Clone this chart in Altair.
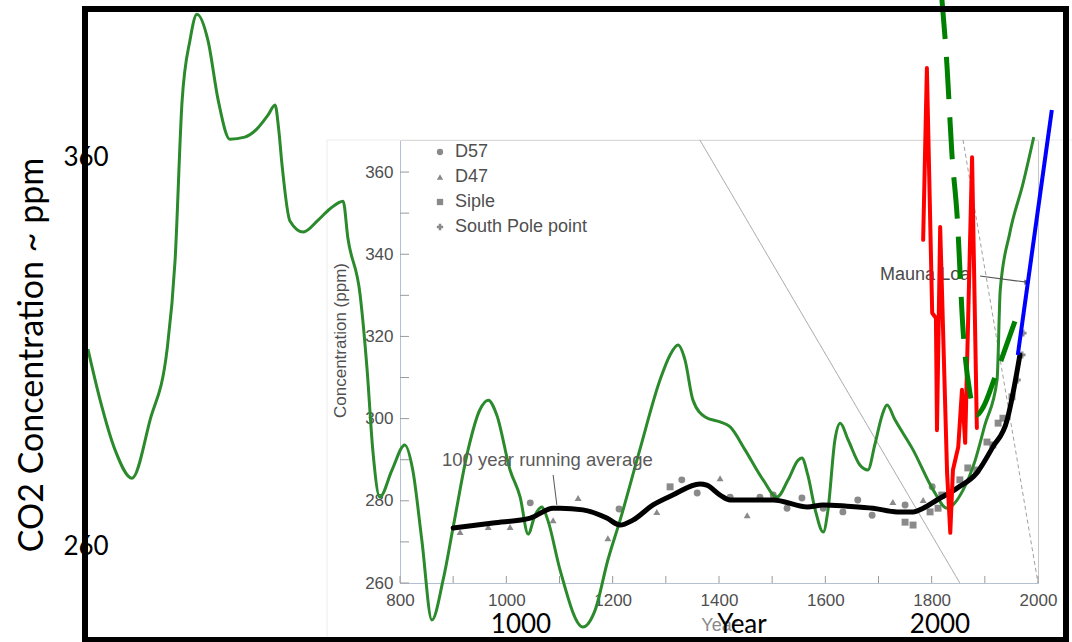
import altair as alt
import pandas as pd

# ---- solid green reconstruction (year, ppm) ----
green_year = [213, 236, 264, 296, 330, 362, 377, 390, 405, 418, 439, 458, 480, 508, 531, 552,
              565, 572, 578, 593, 618, 646, 668, 693, 702, 725, 738, 749, 762, 785, 809, 824,
              841, 860, 881, 900, 928, 950, 966, 982, 1007, 1026, 1041, 1054, 1067, 1078, 1101,
              1144, 1167, 1191, 1214, 1251, 1289, 1308, 1323, 1336, 1351, 1374, 1402, 1421, 1449,
              1483, 1509, 1530, 1549, 1556, 1567, 1581, 1596, 1605, 1618, 1628, 1643, 1665, 1680,
              1693, 1707, 1716, 1731, 1765, 1803, 1829, 1859, 1882, 1900, 1923, 1929, 1947, 1972, 1992]
green_ppm = [316.9, 304.5, 292.4, 285.5, 299.7, 316.9, 338.6, 377.0, 392.1, 398.4, 391.9, 377.5,
             368.0, 368.5, 370.5, 373.9, 376.3, 370.2, 361.9, 348.1, 345.4, 348.3, 351.0, 352.9,
             343.9, 330.1, 312.1, 292.1, 280.9, 287.5, 293.6, 287.5, 270.5, 251.0, 260.7, 273.6,
             292.4, 302.1, 304.5, 300.9, 287.5, 280.9, 271.9, 276.5, 278.5, 275.3, 263.2, 249.3,
             253.4, 265.6, 275.3, 292.4, 309.4, 315.5, 317.9, 314.3, 304.5, 300.4, 299.2, 298.0,
             292.4, 285.1, 280.9, 285.1, 289.9, 290.4, 286.3, 277.8, 272.4, 277.8, 294.8, 298.9,
             294.8, 288.7, 287.5, 293.6, 300.9, 303.3, 299.7, 292.4, 282.6, 278.2, 282.6, 289.9,
             298.4, 309.4, 331.3, 345.2, 357.3, 368.5]

# ---- 100 year running average ----
avg_year = [900, 975, 1045, 1088, 1101, 1144, 1189, 1214, 1238, 1276, 1313, 1364, 1377, 1402,
            1421, 1453, 1502, 1566, 1596, 1641, 1690, 1735, 1765, 1784, 1810, 1848, 1885, 1915,
            1942, 1953, 1966]
avg_ppm = [273.4, 274.6, 275.8, 278.2, 278.2, 277.8, 275.8, 274.1, 275.3, 279.0, 281.4, 284.1,
           283.8, 281.4, 280.2, 280.2, 280.2, 278.5, 279.0, 278.7, 278.2, 277.3, 277.3, 278.2,
           280.2, 283.1, 286.8, 293.1, 299.7, 306.2, 315.5]

# ---- red series ----
red_year = [1784, 1791, 1801, 1808, 1810, 1816, 1829, 1835, 1840, 1850, 1857, 1863, 1876, 1885]
red_ppm = [343.5, 385.3, 325.7, 324.5, 297.2, 346.6, 286.8, 272.2, 287.5, 293.1, 307.0, 294.1,
           363.6, 297.7]

# ---- dashed green series ----
dash_year = [1819, 1829, 1838, 1848, 1859, 1872, 1885, 1897, 1919, 1962]
dash_ppm = [402.5, 385.5, 364.6, 349.1, 321.6, 306.2, 300.9, 302.8, 310.1, 325.7]

# ---- blue series ----
blue_year = [1962, 2026]
blue_ppm = [315.5, 375.1]

# ---- ice-core measurements ----
core_year = [913, 966, 1007, 1045, 1088, 1135, 1191, 1212, 1283, 1308, 1330, 1359, 1402, 1421,
             1453, 1477, 1502, 1528, 1556, 1596, 1633, 1661, 1688, 1727, 1750, 1750, 1765, 1784,
             1797, 1801, 1812, 1819, 1853, 1868, 1885, 1904, 1915, 1925, 1934, 1951, 1961, 1970, 1972]
core_ppm = [272.4, 273.6, 273.6, 279.5, 275.3, 280.7, 270.9, 278.0, 277.3, 283.4, 285.1, 281.9,
            285.5, 280.9, 276.5, 280.9, 281.4, 278.2, 280.7, 278.2, 277.3, 280.2, 276.5, 279.7,
            279.0, 274.8, 274.1, 280.2, 277.3, 283.4, 278.2, 281.4, 285.1, 288.0, 287.5, 294.3,
            293.6, 298.9, 300.1, 305.3, 309.4, 315.5, 320.8]
core_src = ["D47", "D47", "D47", "D57", "D47", "D47", "D47", "D57", "D47", "Siple", "D57", "D57",
            "D47", "D57", "D47", "D57", "D57", "D57", "D57", "D57", "D57", "D57", "D57", "D47",
            "D57", "Siple", "Siple", "D47", "Siple", "D57", "Siple", "Siple", "Siple", "Siple",
            "Siple", "Siple", "Siple", "Siple", "Siple", "Siple", "South Pole point",
            "South Pole point", "South Pole point"]
sources = ["D57", "D47", "Siple", "South Pole point"]
source_shapes = ["circle", "triangle-up", "square", "cross"]

# ---- axis ticks ----
x_ticks = [800, 900, 1000, 1100, 1200, 1300, 1400, 1500, 1600, 1700, 1800, 1900, 2000]
x_labels = [800, 1000, 1200, 1400, 1600, 1800, 2000]
y_ticks = [260, 270, 280, 290, 300, 310, 320, 330, 340, 350, 360]
y_labels = [260, 280, 300, 320, 340, 360]

# slide-level axis labels
outer_year_ticks = [1000, 2000]
outer_ppm_ticks = [360, 260]

# annotation anchors (year, ppm)
avg_label = {"year": 879, "ppm": 289.9, "text": "100 year running average"}
avg_leader = {"year": 1088, "ppm": 286.3, "year2": 1095, "ppm2": 279.0}
ml_label = {"year": 1703, "ppm": 334.9, "text": "Mauna Loa"}
ml_arrow = {"year": 1891, "ppm": 334.7, "year2": 1979, "ppm2": 333.2}
guide_lines = pd.DataFrame({"year": [1364, 1859], "ppm": [367.8, 367.8],
                            "year2": [1853, 2000], "ppm2": [260, 260],
                            "kind": ["solid", "dashed"]})

INNER_FONT = "Liberation Sans"
OUTER_FONT = "Lato"
GREY_TXT = "#4f4f4f"

XS = alt.Scale(domain=[800, 2000], nice=False, zero=False)
YS = alt.Scale(domain=[260, 367.8], nice=False, zero=False)

X_AXIS = alt.Axis(values=x_labels, format="d", tickSize=0, domainColor="#b4bfd4", labelColor=GREY_TXT,
                  labelFont=INNER_FONT, labelFontSize=17, labelPadding=9, labelFlush=False, grid=False,
                  title="Year", titleColor="#8a8a8a", titleFont=INNER_FONT, titleFontSize=18,
                  titleFontWeight="normal", titlePadding=8)
Y_AXIS = alt.Axis(values=y_labels, format="d", tickSize=0, domainColor="#b4bfd4", labelColor=GREY_TXT,
                  labelFont=INNER_FONT, labelFontSize=17, labelPadding=7, labelFlush=False, grid=False,
                  title="Concentration (ppm)", titleColor=GREY_TXT, titleFont=INNER_FONT,
                  titleFontSize=17, titleFontWeight="normal", titleX=-51, titleY=200)


def X(field="year"):
    return alt.X(f"{field}:Q", scale=XS, axis=X_AXIS)


def Y(field="ppm"):
    return alt.Y(f"{field}:Q", scale=YS, axis=Y_AXIS)


one = pd.DataFrame({"k": [0]})

# faint edge of the embedded figure
figure_edge = alt.Chart(one).mark_rect(fillOpacity=0, stroke="#ececec", strokeWidth=1).encode(
    x=alt.value(-73), x2=alt.value(680), y=alt.value(0), y2=alt.value(520))

# inward tick marks of the embedded figure
x_tick_layer = alt.Chart(pd.DataFrame({"year": x_ticks})).mark_rule(color="#9a9a9a", strokeWidth=1).encode(
    x=X(), y=alt.value(443), y2=alt.value(436))
y_tick_layer = alt.Chart(pd.DataFrame({"ppm": y_ticks})).mark_rule(color="#9a9a9a", strokeWidth=1).encode(
    y=Y(), x=alt.value(0), x2=alt.value(9))

guides = alt.Chart(guide_lines).mark_rule(color="#a0a0a0", strokeWidth=1).encode(
    x=X(), y=Y(), x2="year2:Q", y2="ppm2:Q",
    strokeDash=alt.StrokeDash("kind:N", scale=alt.Scale(domain=["solid", "dashed"],
                                                        range=[[1, 0], [4, 3]]), legend=None))

cores = alt.Chart(pd.DataFrame({"year": core_year, "ppm": core_ppm, "src": core_src})).mark_point(
    filled=True, size=48, opacity=0.9).encode(
    x=X(), y=Y(), color=alt.value("#7d7d7d"),
    shape=alt.Shape("src:N", scale=alt.Scale(domain=sources, range=source_shapes),
                    legend=alt.Legend(orient="none", legendX=31, legendY=3, title=None,
                                      labelFont=INNER_FONT, labelFontSize=18, labelColor=GREY_TXT,
                                      symbolFillColor="#7d7d7d", symbolStrokeColor="#7d7d7d",
                                      symbolSize=40, labelOffset=6, rowPadding=7, padding=0)))

green = alt.Chart(pd.DataFrame({"year": green_year, "ppm": green_ppm})).mark_line(
    color="#2b8a2b", strokeWidth=3, interpolate="monotone").encode(x=X(), y=Y())

avg = alt.Chart(pd.DataFrame({"year": avg_year, "ppm": avg_ppm})).mark_line(
    color="black", strokeWidth=5, interpolate="monotone", strokeCap="round").encode(x=X(), y=Y())

avg_text = alt.Chart(pd.DataFrame([avg_label])).mark_text(
    align="left", baseline="middle", font=INNER_FONT, fontSize=18.5, color="#5a5a5a").encode(
    x=X(), y=Y(), text="text:N")
avg_lead = alt.Chart(pd.DataFrame([avg_leader])).mark_rule(color="#555", strokeWidth=1).encode(
    x=X(), y=Y(), x2="year2:Q", y2="ppm2:Q")

ml_text = alt.Chart(pd.DataFrame([ml_label])).mark_text(
    align="left", baseline="middle", font=INNER_FONT, fontSize=18, color="#4a4a4a").encode(
    x=X(), y=Y(), text="text:N")
ml_line = alt.Chart(pd.DataFrame([ml_arrow])).mark_rule(color="#555", strokeWidth=1.2).encode(
    x=X(), y=Y(), x2="year2:Q", y2="ppm2:Q")
ml_head = alt.Chart(pd.DataFrame([ml_arrow])).mark_point(
    shape="triangle-right", filled=True, size=30, color="#555", opacity=1).encode(
    x=X("year2"), y=Y("ppm2"))

red = alt.Chart(pd.DataFrame({"year": red_year, "ppm": red_ppm})).mark_line(
    color="#ff0000", strokeWidth=4, strokeJoin="round", strokeCap="round").encode(x=X(), y=Y())

dashed = alt.Chart(pd.DataFrame({"year": dash_year, "ppm": dash_ppm})).mark_line(
    color="#008000", strokeWidth=5, strokeDash=[42, 18], interpolate="monotone").encode(x=X(), y=Y())

blue = alt.Chart(pd.DataFrame({"year": blue_year, "ppm": blue_ppm})).mark_line(
    color="#0000ff", strokeWidth=4).encode(x=X(), y=Y())

# ---- slide-level labels and frame (placed in pixels around the figure) ----
outer_y = alt.Chart(pd.DataFrame({"lab": outer_ppm_ticks, "py": [18, 407]})).mark_text(
    font=OUTER_FONT, fontSize=26, color="black", align="center", baseline="middle").encode(
    y=alt.Y("py:Q", scale=None), x=alt.value(-314), text=alt.Text("lab:Q", format="d"))
outer_x = alt.Chart(pd.DataFrame({"lab": outer_year_ticks, "px": [121, 540]})).mark_text(
    font=OUTER_FONT, fontSize=26, color="black", align="center", baseline="middle").encode(
    x=alt.X("px:Q", scale=None), y=alt.value(485), text=alt.Text("lab:Q", format="d"))
outer_year_title = alt.Chart(one).mark_text(
    font=OUTER_FONT, fontSize=26, color="black", align="center", baseline="middle", text="Year").encode(
    x=alt.value(342), y=alt.value(485))
outer_ppm_title = alt.Chart(one).mark_text(
    font=OUTER_FONT, fontSize=34, color="black", align="center", baseline="middle", angle=270,
    text="CO2 Concentration ~ ppm").encode(x=alt.value(-367), y=alt.value(215))
frame = alt.Chart(one).mark_rect(fillOpacity=0, stroke="black", strokeWidth=6).encode(
    x=alt.value(-315), x2=alt.value(666), y=alt.value(-131), y2=alt.value(500))

chart = alt.layer(
    figure_edge, guides, x_tick_layer, y_tick_layer, cores, green, avg, avg_lead, avg_text,
    ml_text, ml_line, ml_head, red, dashed, blue,
    outer_y, outer_x, outer_year_title, outer_ppm_title, frame,
).properties(
    width=638, height=443,
    padding={"left": 400, "top": 140, "right": 34, "bottom": 59},
    autosize=alt.AutoSizeParams(type="none"),
    background="white",
).configure_view(stroke="#c8c8c8", strokeWidth=1)

chart.save("out.html", embed_options={"renderer": "svg", "actions": False})
